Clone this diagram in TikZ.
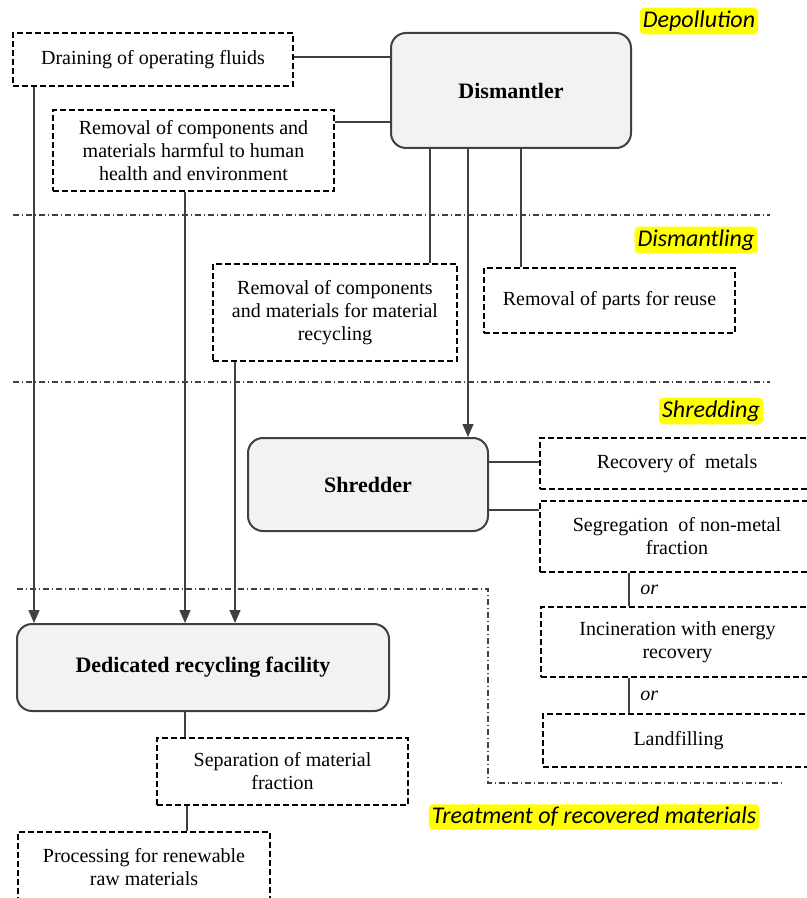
\documentclass[tikz,border=0pt]{standalone}
\usepackage{fontspec}
\setmainfont{LiberationSerif}[Extension=.ttf, UprightFont=*-Regular, BoldFont=*-Bold, ItalicFont=*-Italic, BoldItalicFont=*-BoldItalic]
\newfontfamily\stagefont{Carlito}
\usepackage{tikz}
\usetikzlibrary{arrows.meta,calc}

\definecolor{boxgray}{HTML}{F2F2F2}
\definecolor{edgegray}{HTML}{404040}
\definecolor{marker}{HTML}{FFFF00}

\begin{document}
\begin{tikzpicture}[x=0.5pt, y=-0.5pt, >={Triangle[length=6.5pt,width=5.5pt]},
    plant/.style={draw=edgegray, line width=1pt, fill=boxgray, rounded corners=7.5pt, inner sep=0pt, font=\bfseries\fontsize{11}{13}\selectfont, align=center},
    task/.style={draw, dash pattern=on 3pt off 1.5pt, line width=0.6pt, inner sep=0pt, font=\fontsize{10}{11.5}\selectfont, align=center},
    stage/.style={fill=marker, rounded corners=2pt, inner sep=1.5pt, font=\stagefont\itshape\fontsize{12}{14}\selectfont},
    border/.style={draw=edgegray, line width=0.6pt, dash pattern=on 3pt off 1.5pt on 0.5pt off 1.5pt},
    link/.style={draw=edgegray, line width=0.7pt},
    ortag/.style={font=\itshape\fontsize{10}{12}\selectfont}]
    \useasboundingbox (0,0) rectangle (807,898);
    \clip (0,0) rectangle (807,898);
    % boxes
    \node[task, minimum width=140pt, minimum height=26.5pt] (drain) at (153,59.5) {Draining of operating fluids};
    \node[task, minimum width=140.5pt, minimum height=40.5pt] (harm) at (193.5,150.5) {Removal of components and\\materials harmful to human\\health and environment};
    \node[plant, minimum width=120pt, minimum height=57.5pt] (dism) at (511,90.5) {Dismantler};
    \node[task, minimum width=122pt, minimum height=48.5pt] (recyc) at (335,312.5) {Removal of components\\and materials for material\\recycling};
    \node[task, minimum width=125.5pt, minimum height=32.5pt] (reuse) at (609.5,300.5) {Removal of parts for reuse};
    \node[plant, minimum width=120pt, minimum height=46.5pt] (shred) at (368,484.5) {Shredder};
    \node[task, minimum width=137pt, minimum height=25.5pt] (metals) at (677,463.5) {Recovery of\ \ metals};
    \node[task, minimum width=137pt, minimum height=35.5pt] (segr) at (677,536.5) {Segregation\ \ of non-metal\\fraction};
    \node[task, minimum width=136.5pt, minimum height=35pt] (incin) at (677.5,642) {Incineration with energy\\recovery};
    \node[task, minimum width=135.5pt, minimum height=26.5pt] (landf) at (678.5,740.5) {Landfilling};
    \node[plant, minimum width=186pt, minimum height=43.5pt] (facil) at (203,667.5) {Dedicated recycling facility};
    \node[task, minimum width=125.5pt, minimum height=33.5pt] (separ) at (282.5,771.5) {Separation of material\\fraction};
    \node[task, minimum width=126pt, minimum height=35pt] (proc) at (144,867) {Processing for renewable\\raw materials};
    % stages
    \node[stage] (depol) at (699,21) {Depollution};
    \node[stage] (dismt) at (696,240) {Dismantling};
    \node[stage] (shrst) at (711,411) {Shredding};
    \node[stage] (treat) at (594,817) {Treatment of recovered materials};
    % separators
    \draw[border] (13,215) -- (770,215);
    \draw[border] (13,382) -- (770,382);
    \draw[border] (17,589) -- (488,589) -- (488,783) -- (785,783);
    % links
    \draw[link] (drain.east |- 0,57) -- (dism.west |- 0,57);
    \draw[link] (harm.east |- 0,122) -- (dism.west |- 0,122);
    \draw[link] (dism.south -| 430,0) -- (recyc.north -| 430,0);
    \draw[link,->] (dism.south -| 468,0) -- (shred.north -| 468,0);
    \draw[link] (dism.south -| 521,0) -- (reuse.north -| 521,0);
    \draw[link,->] (drain.south -| 34,0) -- (facil.north -| 34,0);
    \draw[link,->] (harm.south -| 185,0) -- (facil.north -| 185,0);
    \draw[link,->] (recyc.south -| 235,0) -- (facil.north -| 235,0);
    \draw[link] (shred.east |- 0,462) -- (metals.west |- 0,462);
    \draw[link] (shred.east |- 0,510) -- (segr.west |- 0,510);
    \draw[link] (segr.south -| 629,0) -- node[ortag, right=2pt] (or1) {or} (incin.north -| 629,0);
    \draw[link] (incin.south -| 629,0) -- node[ortag, right=2pt] (or2) {or} (landf.north -| 629,0);
    \draw[link] (facil.south -| 185,0) -- (separ.north -| 185,0);
    \draw[link] (separ.south -| 187,0) -- (proc.north -| 187,0);
\end{tikzpicture}
\end{document}
